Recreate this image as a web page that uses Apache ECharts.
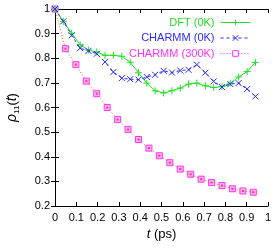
<!DOCTYPE html>
<html><head><meta charset="utf-8">
<script src="https://cdn.jsdelivr.net/npm/echarts@6/dist/echarts.min.js"></script>
<style>html,body{margin:0;padding:0;background:#fff}#c{width:275px;height:249px}</style>
</head><body><div id="c"></div>
<script>
var tDFT = [0, 0.039, 0.078, 0.118, 0.157, 0.196, 0.235, 0.274, 0.314, 0.353, 0.392, 0.431, 0.470, 0.510, 0.549, 0.588, 0.627, 0.666, 0.706, 0.745, 0.784, 0.823, 0.862, 0.902, 0.941];
var vDFT = [1.0, 0.950, 0.902, 0.855, 0.833, 0.825, 0.812, 0.812, 0.808, 0.784, 0.741, 0.699, 0.668, 0.659, 0.668, 0.679, 0.695, 0.699, 0.688, 0.681, 0.685, 0.699, 0.724, 0.746, 0.783];
var tCH0 = [0, 0.039, 0.078, 0.118, 0.157, 0.196, 0.235, 0.274, 0.314, 0.353, 0.392, 0.431, 0.470, 0.510, 0.549, 0.588, 0.627, 0.666, 0.706, 0.745, 0.784, 0.823, 0.862, 0.902, 0.941];
var vCH0 = [1.0, 0.950, 0.893, 0.841, 0.830, 0.818, 0.785, 0.744, 0.719, 0.715, 0.713, 0.724, 0.733, 0.749, 0.742, 0.750, 0.753, 0.774, 0.741, 0.706, 0.683, 0.695, 0.699, 0.675, 0.645];
var tCH300 = [0, 0.049, 0.098, 0.147, 0.196, 0.245, 0.294, 0.343, 0.392, 0.441, 0.490, 0.539, 0.588, 0.637, 0.686, 0.735, 0.784, 0.833, 0.882, 0.931];
var vCH300 = [1.0, 0.839, 0.774, 0.707, 0.656, 0.600, 0.551, 0.511, 0.470, 0.435, 0.404, 0.376, 0.350, 0.329, 0.309, 0.295, 0.283, 0.270, 0.261, 0.256];
var names = ['DFT (0K)', 'CHARMM (0K)', 'CHARMM (300K)'];
var xTicks = ['0', '0.1', '0.2', '0.3', '0.4', '0.5', '0.6', '0.7', '0.8', '0.9', '1'];
var yTicks = ['0.2', '0.3', '0.4', '0.5', '0.6', '0.7', '0.8', '0.9', '1'];

function pairs(t, v) { return t.map(function (x, i) { return [x, v[i]]; }); }
var cG = '#22e022', cB = '#2a2aff', cM = '#ff33ff', cR = '#ff4a4a';
var plus = 'path://M0,5L10,5M5,0L5,10';
var cross = 'path://M0,0L10,10M10,0L0,10';
var font = 'Liberation Sans';
var chart = echarts.init(document.getElementById('c'), null, {renderer: 'canvas'});
chart.setOption({
  animation: false,
  textStyle: {fontFamily: font},
  grid: {left: 55, right: 7, top: 9, bottom: 43, containLabel: false, outerBoundsMode: 'none'},
  legend: {
    right: 19, top: 12, orient: 'vertical', align: 'right',
    itemWidth: 30, itemHeight: 7, itemGap: 4.5,
    textStyle: {fontFamily: font, fontSize: 11, padding: [0, 1, 0, 0]},
    data: [
      {name: names[0], textStyle: {color: cG}, lineStyle: {color: cG, width: 1, type: 'solid'}, itemStyle: {color: cG, borderColor: cG, borderWidth: 1}},
      {name: names[1], textStyle: {color: cB}, lineStyle: {color: cB, type: [3, 3], width: 1}, itemStyle: {color: cB, borderColor: cB, borderWidth: 1}},
      {name: names[2], textStyle: {color: cM}, lineStyle: {color: cM, type: [1, 2], width: 1}, itemStyle: {color: '#fff', borderColor: cM, borderWidth: 1}}
    ]
  },
  xAxis: [{
    type: 'value', min: 0, max: 1, interval: 0.1,
    axisLine: {lineStyle: {color: '#000', width: 1}},
    axisTick: {inside: true, length: 4, lineStyle: {color: '#000'}},
    axisLabel: {color: '#000', fontSize: 11, margin: 6, formatter: function (v) { return xTicks[Math.round(v * 10)]; }},
    splitLine: {show: false},
    name: '{i|t} (ps)', nameLocation: 'middle', nameGap: 19,
    nameTextStyle: {color: '#000', fontSize: 13, rich: {i: {fontStyle: 'italic', fontSize: 13, color: '#000'}}}
  }, {
    type: 'value', min: 0, max: 1, interval: 0.1, position: 'top',
    axisLine: {lineStyle: {color: '#000', width: 1}},
    axisTick: {inside: true, length: 4, lineStyle: {color: '#000'}},
    axisLabel: {show: false}, splitLine: {show: false}
  }],
  yAxis: [{
    type: 'value', min: 0.2, max: 1, interval: 0.1,
    axisLine: {show: true, lineStyle: {color: '#000', width: 1}},
    axisTick: {show: true, inside: true, length: 4, lineStyle: {color: '#000'}},
    axisLabel: {color: '#000', fontSize: 11, margin: 5, formatter: function (v) { return yTicks[Math.round((v - 0.2) * 10)]; }},
    splitLine: {show: false},
    name: '{i|ρ}{s|11}({i|t})', nameLocation: 'middle', nameGap: 34, nameRotate: 90,
    nameTextStyle: {color: '#000', fontSize: 13, rich: {
      i: {fontStyle: 'italic', fontSize: 14, color: '#000', lineHeight: 18, verticalAlign: 'middle'},
      s: {fontSize: 8, color: '#000', lineHeight: 18, verticalAlign: 'bottom'}
    }}
  }, {
    type: 'value', min: 0.2, max: 1, interval: 0.1, position: 'right',
    axisLine: {show: true, lineStyle: {color: '#000', width: 1}},
    axisTick: {show: true, inside: true, length: 4, lineStyle: {color: '#000'}},
    axisLabel: {show: false}, splitLine: {show: false}
  }],
  series: [
    {name: names[2], type: 'line', data: pairs(tCH300, vCH300), symbol: 'rect', symbolSize: 6,
     lineStyle: {color: cR, width: 1, type: [1, 2]},
     itemStyle: {color: '#ffb4f4', borderColor: cM, borderWidth: 1}, z: 2},
    {name: 'red300', type: 'scatter', data: pairs(tCH300, vCH300), symbol: 'rect', symbolSize: 2,
     itemStyle: {color: '#ff2020'}, z: 3, silent: true},
    {name: names[0], type: 'line', data: pairs(tDFT, vDFT), symbol: plus, symbolSize: 7,
     lineStyle: {color: cG, width: 1},
     itemStyle: {color: cG, borderColor: cG, borderWidth: 1}, z: 4},
    {name: names[1], type: 'line', data: pairs(tCH0, vCH0), symbol: cross, symbolSize: 6,
     lineStyle: {color: cB, width: 1, type: [3, 3]},
     itemStyle: {color: cB, borderColor: cB, borderWidth: 1}, z: 5}
  ]
});
</script></body></html>
